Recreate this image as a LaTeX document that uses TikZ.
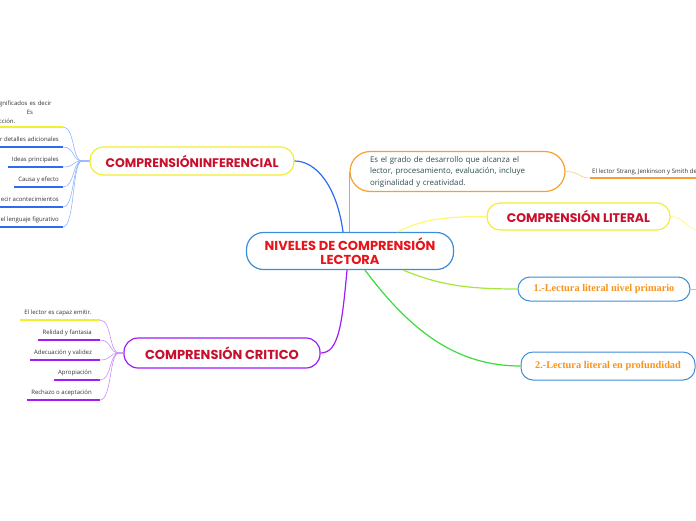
\documentclass[tikz,border=0pt]{standalone}
\usepackage{fontspec}
\setmainfont{Open Sans}
\newfontfamily\headfont{Poppins}
\newfontfamily\slabfont{Liberation Serif}
\usepackage{tikz}
\usetikzlibrary{positioning}
\definecolor{ink}       {HTML}{333333}
\definecolor{slate}     {HTML}{2F4F4F}
\definecolor{mmred}     {HTML}{E8141B}
\definecolor{mmcrimson} {HTML}{C8102E}
\definecolor{mmblue}    {HTML}{3C8DD9}
\definecolor{mmyellow}  {HTML}{F2EE30}
\definecolor{mmpurple}  {HTML}{A11CF5}
\definecolor{mmorange}  {HTML}{F7A030}
\definecolor{txtorange} {HTML}{F7941D}
\definecolor{deepblue}  {HTML}{2F6BF0}
\definecolor{skyblue}   {HTML}{93B4FF}
\definecolor{lilac}     {HTML}{C98DFF}
\definecolor{lime}      {HTML}{A8E63A}
\definecolor{leafgreen} {HTML}{3ADB3A}
\definecolor{paleyellow}{HTML}{FFF870}
\definecolor{paleorange}{HTML}{FBCB85}

\begin{document}
\begin{tikzpicture}[x=1pt,y=-1pt,
    topic/.style={draw,line width=1.2pt,fill=white,inner sep=0pt,align=center,
      font=\headfont\bfseries\fontsize{12.5}{14}\selectfont,text=mmcrimson},
    sub/.style={draw=mmblue,line width=1pt,fill=white,inner sep=0pt,rounded corners=12pt,
      font=\slabfont\bfseries\fontsize{10.3}{11}\selectfont,text=txtorange},
    leaf/.style={anchor=south east,inner xsep=4pt,inner ysep=4.5pt,text depth=1.3pt,
      font=\fontsize{6}{9}\selectfont,text=ink},
    uline/.style={line width=1.4pt},
    twig/.style={line width=0.6pt},
    branch/.style={line width=1.2pt}]
  \useasboundingbox (0,0) rectangle (696,520);
  \coordinate (edge) at (700,0);

  \node[topic,draw=mmblue,rounded corners=17pt,minimum width=207pt,minimum height=37pt,
        text=mmred,font=\headfont\bfseries\fontsize{13}{14}\selectfont]
        (hub) at (350,251) {NIVELES DE COMPRENSIÓN\\LECTORA};
  \node[topic,draw=mmyellow,rounded corners=13pt,minimum width=204pt,minimum height=28pt]
        (inf) at (192,161) {COMPRENSIÓNINFERENCIAL};
  \node[topic,draw=mmpurple,rounded corners=14pt,minimum width=196pt,minimum height=30pt,
        font=\headfont\bfseries\fontsize{13}{14}\selectfont]
        (crit) at (222,353) {COMPRENSIÓN CRITICO};
  \node[topic,draw=mmyellow,rounded corners=13pt,minimum width=183pt,minimum height=27pt]
        (lit) at (578.5,216.5) {COMPRENSIÓN LITERAL};
  \node[draw=mmorange,line width=1.2pt,fill=white,rounded corners=20pt,
        text width=175pt,inner xsep=20pt,inner ysep=4.5pt,align=left,
        font=\fontsize{7.9}{11.5}\selectfont,text=slate]
        (desc) at (457.5,171.5) {Es el grado de desarrollo que alcanza el\\
        lector, procesamiento, evaluación, incluye\\ originalidad y creatividad.};
  \node[sub,minimum width=172pt,minimum height=24pt] (prim) at (604,289)
        {1.-Lectura literal nivel primario};
  \node[sub,minimum width=174pt,minimum height=28pt] (prof) at (608,366)
        {2.-Lectura literal en profundidad};

  \draw[branch,mmorange] (desc.west |- hub.north) -- (desc.west);
  \draw[branch,deepblue] ([xshift=-7pt]hub.north) .. controls +(-6,-45) and +(22,0) .. (inf.east);
  \draw[branch,paleyellow] ([xshift=47pt]hub.north) .. controls +(25,-12) and +(-45,0) .. (lit.west);
  \draw[branch,lime] ([xshift=53pt]hub.south) .. controls +(35,14) and +(-55,0) .. (prim.west);
  \draw[branch,leafgreen] ([xshift=15pt]hub.south) .. controls +(45,60) and +(-65,0) .. (prof.west);
  \draw[branch,mmpurple] ([xshift=-3pt]hub.south) .. controls +(-5,55) and +(18,0) .. (crit.east);

  \node[anchor=south west,inner xsep=2pt,inner ysep=3.5pt,text depth=1.3pt,
        font=\fontsize{6.1}{7}\selectfont,text=ink] (strang) at (590,178)
        {El lector Strang, Jenkinson y Smith de};
  \draw[uline,mmorange] (strang.south west) -- (strang.south west -| edge);
  \draw[twig,paleorange] (desc.east) .. controls +(14,0) and +(-12,0) .. (strang.south west);
  \coordinate (litend) at (700,230);
  \draw[twig,paleyellow] (lit.east) .. controls +(14,0) and +(-14,0) .. (litend);
  \draw[twig,lime,line width=1pt] (prim.east) -- (prim.east -| edge);

  \coordinate (infhub) at (82,161);
  \node[anchor=south east,inner xsep=4pt,inner ysep=3.5pt,text width=58pt,align=left,
        font=\fontsize{6}{9}\selectfont,text=ink] (l1) at (63,127)
        {\hspace*{-6pt}significados es decir\\ \hspace*{26pt}Es\\ \hspace*{-5pt}acción.};
  \draw[uline,mmyellow] (l1.south west) -- (l1.south east);
  \draw[twig,skyblue] (l1.south east) .. controls +(12,0) and +(-10,0) .. (infhub) -- (inf.west);
  \foreach \nm/\y/\txt in {l2/147/{r detalles adicionales},l3/167/{Ideas principales},
      l4/187/{Causa y efecto},l5/207/{ecir acontecimientos},l6/227/{el lenguaje figurativo}} {
    \node[leaf] (\nm) at (63,\y) {\txt};
    \draw[uline,deepblue] (\nm.south west) -- (\nm.south east);
    \draw[twig,skyblue] (\nm.south east) .. controls +(12,0) and +(-10,0) .. (infhub) -- (inf.west);
  }

  \coordinate (crithub) at (119,353);
  \foreach \nm/\y/\txt/\col in {c1/320/{El lector es capaz emitir.}/mmyellow,
      c2/340/{Relidad y fantasia}/mmpurple,c3/360/{Adecuación y validez}/mmpurple,
      c4/380/{Apropiación}/mmpurple,c5/400/{Rechazo o aceptación}/mmpurple} {
    \node[leaf,inner ysep=4pt] (\nm) at (96,\y) {\txt};
    \coordinate (\nm e) at ([xshift=4pt]\nm.south east);
    \draw[uline,\col] (\nm.south west) -- (\nm e);
    \draw[twig,lilac] (\nm e) .. controls +(12,0) and +(-10,0) .. (crithub) -- (crit.west);
  }
\end{tikzpicture}
\end{document}
